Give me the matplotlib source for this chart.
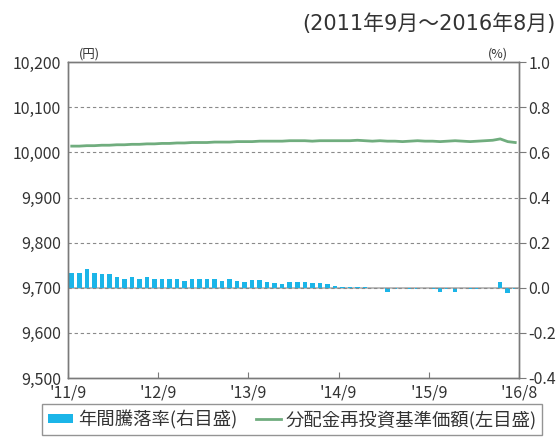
import matplotlib.pyplot as plt
from matplotlib.lines import Line2D
from matplotlib.patches import Patch

plt.rcParams['font.family'] = ['Noto Sans CJK JP', 'DejaVu Sans']

# monthly data, 2011/9 - 2016/8
nav = [10014, 10014, 10015, 10015, 10016, 10016, 10017, 10017, 10018, 10018, 10019, 10019,
       10020, 10020, 10021, 10021, 10022, 10022, 10022, 10023, 10023, 10023, 10024, 10024,
       10024, 10025, 10025, 10025, 10025, 10026, 10026, 10026, 10025, 10026, 10026, 10026,
       10026, 10026, 10027, 10026, 10025, 10026, 10025, 10025, 10024, 10025, 10026, 10025,
       10025, 10024, 10025, 10026, 10025, 10024, 10025, 10026, 10027, 10030, 10024, 10022]
ret = [0.067, 0.067, 0.081, 0.067, 0.059, 0.059, 0.049, 0.037, 0.049, 0.037, 0.049, 0.037,
       0.037, 0.037, 0.037, 0.030, 0.037, 0.037, 0.037, 0.037, 0.030, 0.037, 0.028, 0.025,
       0.034, 0.034, 0.025, 0.022, 0.015, 0.025, 0.025, 0.025, 0.022, 0.019, 0.015, 0.007,
       0.004, 0.004, 0.004, 0.004, 0.0, 0.0, -0.018, -0.005, 0.0, -0.005, -0.005, 0.0,
       -0.005, -0.018, -0.005, -0.018, 0.0, -0.005, -0.005, 0.0, 0.0, 0.027, -0.022, -0.005]
tick_pos = [0, 12, 24, 36, 48, 60]
tick_labels = ["'11/9", "'12/9", "'13/9", "'14/9", "'15/9", "'16/8"]
left_ticks = [9500, 9600, 9700, 9800, 9900, 10000, 10100, 10200]
right_ticks = [-0.4, -0.2, 0.0, 0.2, 0.4, 0.6, 0.8, 1.0]

blue = '#1bb5e8'
green = '#70ad7e'
edge = '#7a7a7a'
txt = '#333333'

x = [i + 0.5 for i in range(len(nav))]

fig = plt.figure(figsize=(5.6, 4.41), dpi=100)
ax = fig.add_axes([0.1214, 0.1429, 0.8054, 0.7160])
ax2 = ax.twinx()

ax.set_xlim(0, 60)
ax.set_ylim(9500, 10200)
ax2.set_ylim(-0.4, 1.0)

for v in left_ticks[1:-1]:
    ax.axhline(v, color='#8a8a8a', lw=0.8, ls=(0, (3, 2.5)), zorder=1)

ax2.bar(x, ret, width=0.6, color=blue, zorder=2)
ax2.axhline(0, color='#b0b0b0', lw=1.2, zorder=1)
ax.plot(x, nav, color=green, lw=2.0, zorder=3)

ax.set_zorder(ax2.get_zorder() + 1)
ax.patch.set_visible(False)

ax.set_xticks(tick_pos)
ax.set_xticklabels(tick_labels)
ax.set_yticks(left_ticks)
ax.set_yticklabels([f'{v:,}' for v in left_ticks])
ax2.set_yticks(right_ticks)
ax2.set_yticklabels([f'{v:.1f}' for v in right_ticks])

ax.tick_params(axis='x', direction='in', length=4, color=edge, labelsize=11.5, labelcolor=txt, pad=5)
ax.tick_params(axis='y', length=0, labelsize=11.5, labelcolor=txt, pad=5)
ax2.tick_params(axis='y', direction='out', length=5, color=edge, labelsize=11.5, labelcolor=txt, pad=2)

for a in (ax, ax2):
    for s in a.spines.values():
        s.set_color(edge)
        s.set_linewidth(1.0)

ax.text(0.025, 1.005, '(円)', transform=ax.transAxes, fontsize=9, color=txt, ha='left', va='bottom')
ax2.text(0.975, 1.005, '(%)', transform=ax2.transAxes, fontsize=9, color=txt, ha='right', va='bottom')

fig.text(0.992, 0.946, '(2011年9月～2016年8月)', fontsize=15, color=txt, ha='right', va='center',
         family=['DejaVu Sans', 'Noto Sans CJK JP'])

handles = [Patch(facecolor=blue, edgecolor='none'),
           Line2D([0], [0], color=green, lw=2.0)]
labels = ['年間騰落率(右目盛)', '分配金再投資基準価額(左目盛)']
leg = fig.legend(handles, labels, loc='upper center', bbox_to_anchor=(0.522, 0.083), ncol=2,
                 fontsize=13.2, frameon=True, fancybox=False, edgecolor=edge,
                 handlelength=1.4, handleheight=0.45, handletextpad=0.25,
                 columnspacing=1.0, borderpad=0.3, borderaxespad=0)
leg.get_frame().set_linewidth(1.0)
for t in leg.get_texts():
    t.set_color(txt)

fig.savefig('out.png', dpi=100)
